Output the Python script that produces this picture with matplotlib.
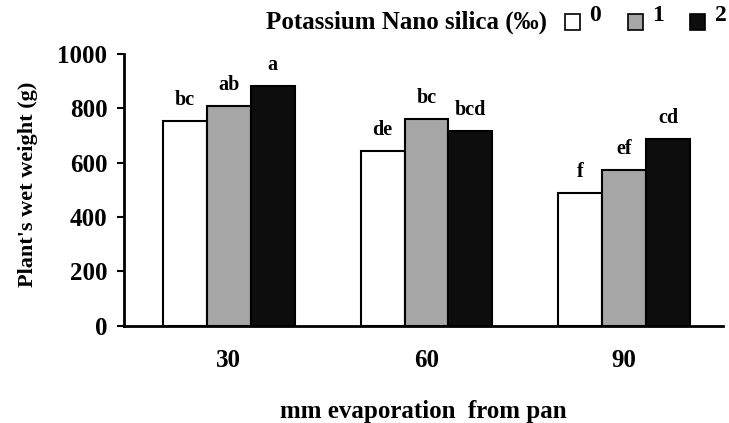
import matplotlib.pyplot as plt
from matplotlib.patches import Rectangle
import numpy as np

# evaporation levels (mm from pan)
evaporation = ['30', '60', '90']
# potassium nano silica levels (‰)
levels = ['0', '1', '2']
wet_weight_0 = [752, 642, 488]
wet_weight_1 = [809, 760, 572]
wet_weight_2 = [881, 716, 686]
letters_0 = ['bc', 'de', 'f']
letters_1 = ['ab', 'bc', 'ef']
letters_2 = ['a', 'bcd', 'cd']

plt.rcParams['font.family'] = ['Liberation Serif', 'DejaVu Serif']
plt.rcParams['font.weight'] = 'bold'

W, H = 729, 423
fig = plt.figure(figsize=(W / 100, H / 100), dpi=100)
ax = fig.add_axes([0.170, 0.230, 0.822, 0.643])

x = np.arange(len(evaporation))
w = 0.222
colors = ['white', '#a6a6a6', '#0d0d0d']
series = [wet_weight_0, wet_weight_1, wet_weight_2]
letters = [letters_0, letters_1, letters_2]

for i in range(3):
    pos = x + (i - 1) * w
    ax.bar(pos, series[i], width=w, color=colors[i], edgecolor='black',
           linewidth=1.5, label=levels[i])
    for xp, v, t in zip(pos, series[i], letters[i]):
        ax.annotate(t, (xp, v), xytext=(0, 8), textcoords='offset points',
                    ha='center', va='bottom', fontsize=14.5, fontweight='bold')

ax.set_xlim(-0.53, 2.5)
ax.set_ylim(0, 1000)
ax.set_yticks(range(0, 1001, 200))
ax.set_xticks(x)
ax.set_xticklabels(evaporation)
ax.tick_params(axis='x', length=0, pad=17, labelsize=18)
ax.tick_params(axis='y', length=5, width=1.5, direction='out', pad=7, labelsize=18)
for lbl in ax.get_xticklabels() + ax.get_yticklabels():
    lbl.set_fontweight('bold')

for s in ['top', 'right']:
    ax.spines[s].set_visible(False)
ax.spines['left'].set_linewidth(2)
ax.spines['bottom'].set_linewidth(2)

ax.set_ylabel("Plant's wet weight (g)", fontsize=16, fontweight='bold')
ax.yaxis.set_label_coords(-0.143, 0.52)
ax.set_xlabel('mm evaporation  from pan', fontsize=18, fontweight='bold', labelpad=20)

# legend drawn in figure pixels: title, then small squares with raised labels
fig.text(547 / W, 1 - 22 / H, 'Potassium Nano silica (‰)', fontsize=18,
         fontweight='bold', ha='right', va='center')
sq_x = [565, 628, 690]
lab_x = [589, 652, 715]
for c, sx, lx, lab in zip(colors, sq_x, lab_x, levels):
    fig.add_artist(Rectangle((sx / W, 1 - 30 / H), 15 / W, 16 / H,
                             facecolor=c, edgecolor='black', linewidth=1.2,
                             transform=fig.transFigure))
    fig.text(lx / W, 1 - 21 / H, lab, fontsize=17, fontweight='bold',
             ha='left', va='baseline')

fig.savefig('out.png', dpi=100)
